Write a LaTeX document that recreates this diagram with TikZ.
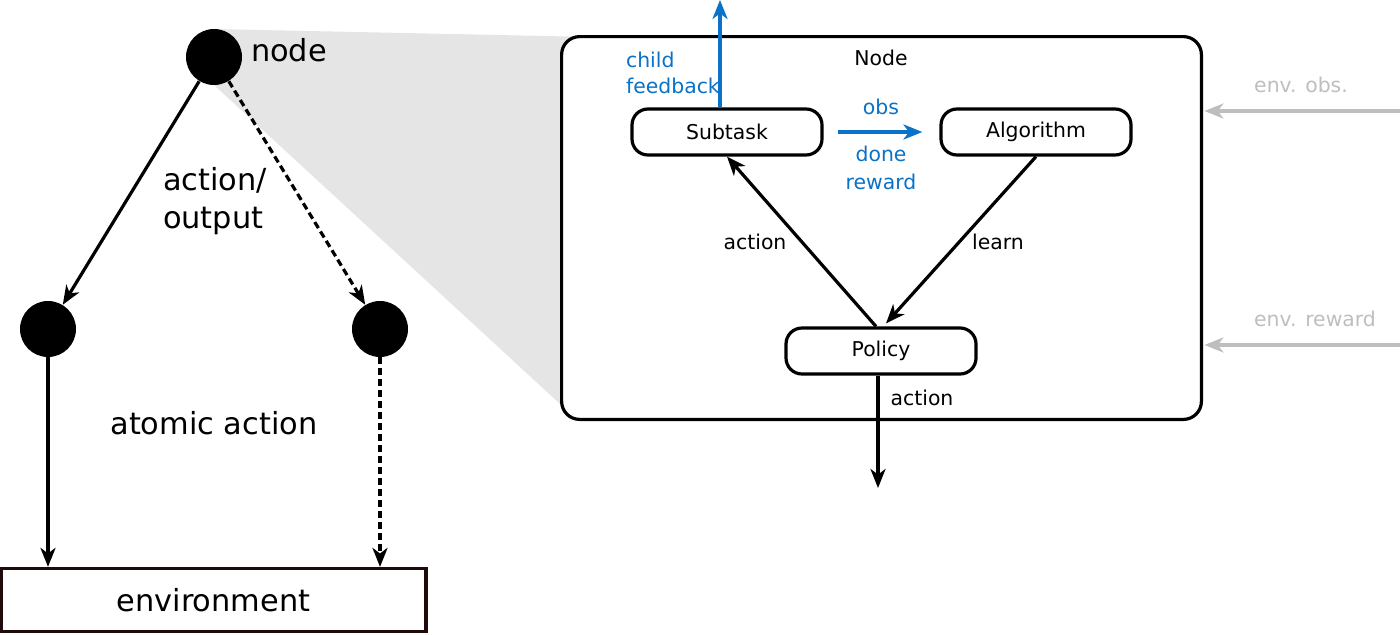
\documentclass[tikz,border=0pt]{standalone}
\usepackage{fontspec}
\setmainfont{DejaVu Sans}
\usetikzlibrary{arrows.meta}

\newlength{\du}
\setlength{\du}{0.5pt}

\definecolor{childblue}{rgb}{0.040000, 0.447000, 0.784000}
\definecolor{envgray}{rgb}{0.745000, 0.745000, 0.745000}
\definecolor{wedgegray}{rgb}{0.898000, 0.898000, 0.898000}
\definecolor{envline}{rgb}{0.125000, 0.040000, 0.040000}

\tikzset{
  bigtext/.style={font=\fontsize{15.2}{19}\selectfont},
  smalltext/.style={font=\fontsize{10.2}{13}\selectfont},
  dot/.style={circle,fill=black,inner sep=0pt,minimum size=56\du},
  task/.style={draw,rounded corners=16\du,line width=1.6pt,fill=white,
    minimum width=190\du,minimum height=46\du,smalltext},
  arr/.style={line width=1.6pt,-{Stealth[length=9.5pt,width=7.5pt,inset=2.8pt]}},
  dashedarr/.style={arr,dash pattern=on 3.5pt off 2pt}
}

\begin{document}
\begin{tikzpicture}
\useasboundingbox (0,0) rectangle (1400\du,634\du);
% zoom wedge first, everything else on top
\coordinate (wtop) at (214\du,605\du);
\coordinate (wbot) at (214\du,549\du);
\node[minimum width=639\du,minimum height=382\du] (box) at (881.5\du,406\du) {};
\fill[wedgegray] (wtop) -- ([xshift=12\du]box.north west)
  -- ([yshift=14\du]box.south west) -- (wbot);
\draw[fill=white,line width=1.6pt,rounded corners=18\du]
  (box.south west) rectangle (box.north east);

% tree on the left
\node[dot] (top) at (214\du,577\du) {};
\node[dot] (lft) at (48\du,305\du) {};
\node[dot] (rgt) at (380\du,305\du) {};
\node[bigtext,anchor=west] (toplbl) at (244\du,584\du) {node};
\node[bigtext,anchor=west,align=left] (outlbl) at (156\du,433\du) {action/\\output};
\node[bigtext] (atomlbl) at (214\du,211\du) {atomic action};
\node[draw=envline,line width=1.6pt,minimum width=425\du,minimum height=63\du,
  bigtext] (env) at (213.5\du,34\du) {environment};

\draw[arr] (top) -- (lft);
\draw[dashedarr] (top) -- (rgt);
\draw[arr] (lft) -- (lft |- env.north);
\draw[dashedarr] (rgt) -- (rgt |- env.north);

% inside the Node box
\node[smalltext] (nodelbl) at (881\du,576\du) {Node};
\node[task] (sub) at (727\du,502\du) {Subtask};
\node[task] (alg) at (1036\du,502\du) {Algorithm};
\node[task] (pol) at (881\du,283\du) {Policy};

\coordinate (cf) at (720\du,634\du);
\coordinate (aout) at (878\du,146\du);

\draw[arr,childblue] (sub.north -| cf) -- (cf);
\node[smalltext,childblue,anchor=west,align=left] (cflbl) at (619\du,561\du) {child\\feedback};
\draw[arr,childblue,shorten <=14\du,shorten >=17\du] (sub) -- (alg);
\node[smalltext,childblue] (obslbl) at (881\du,527\du) {obs};
\node[smalltext,childblue] (donelbl) at (881\du,480\du) {done};
\node[smalltext,childblue] (rewlbl) at (881\du,452\du) {reward};

\draw[arr] ([xshift=-5\du]pol.north) -- (sub.south);
\draw[arr] (alg.south) -- ([xshift=5\du,yshift=3\du]pol.north);
\node[smalltext] (actlbl) at (755\du,392\du) {action};
\node[smalltext] (learnlbl) at (998\du,392\du) {learn};

\draw[arr] (pol.south -| aout) -- (aout);
\node[smalltext] (outact) at (922\du,236\du) {action};

% environment inputs
\coordinate (eo) at (1400\du,523\du);
\coordinate (er) at (1400\du,289\du);
\draw[arr,envgray,shorten >=3\du] (eo) -- (eo -| box.east);
\draw[arr,envgray,shorten >=3\du] (er) -- (er -| box.east);
\node[smalltext,envgray] (eolbl) at (1301\du,549\du) {env. obs.};
\node[smalltext,envgray] (erlbl) at (1315\du,315\du) {env. reward};
\end{tikzpicture}
\end{document}
